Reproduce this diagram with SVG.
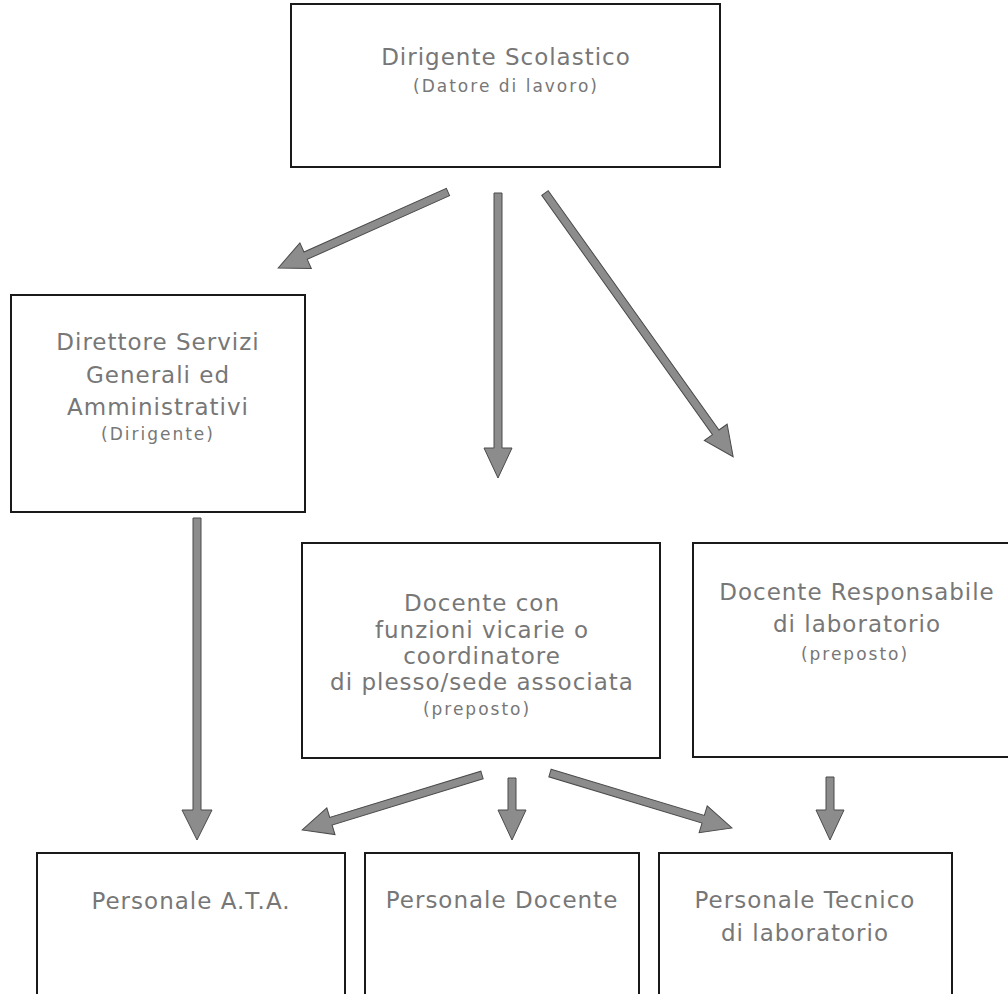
<svg xmlns="http://www.w3.org/2000/svg" width="1008" height="994" viewBox="0 0 1008 994">
<style>
.box{fill:#fff;stroke:#1a1a1a;stroke-width:2}
.t{font-family:"DejaVu Sans",Verdana,sans-serif;font-size:23px;letter-spacing:1px;fill:#777;text-anchor:middle}
.s{font-family:"DejaVu Sans",Verdana,sans-serif;font-size:17px;letter-spacing:2px;fill:#777;text-anchor:middle}
.arr{fill:#8c8c8c;stroke:#4a4a4a;stroke-width:1}
</style>
<rect width="1008" height="994" fill="#fff"/>
<g id="connectors">
<polygon class="arr" transform="translate(448,192) rotate(155.9)" points="0,-4 156,-4 156,-14 186,0 156,14 156,4 0,4"/>
<polygon class="arr" transform="translate(498,193) rotate(90)" points="0,-4 255,-4 255,-14 285,0 255,14 255,4 0,4"/>
<polygon class="arr" transform="translate(545,193) rotate(54.5)" points="0,-4 294,-4 294,-14 324,0 294,14 294,4 0,4"/>
<polygon class="arr" transform="translate(197,518) rotate(90)" points="0,-4 292,-4 292,-15 322,0 292,15 292,4 0,4"/>
<polygon class="arr" transform="translate(482,775) rotate(163)" points="0,-4 158,-4 158,-14 188,0 158,14 158,4 0,4"/>
<polygon class="arr" transform="translate(512,778) rotate(90)" points="0,-4 32,-4 32,-14 62,0 32,14 32,4 0,4"/>
<polygon class="arr" transform="translate(550,773) rotate(16.8)" points="0,-4 160,-4 160,-14 190,0 160,14 160,4 0,4"/>
<polygon class="arr" transform="translate(830,777) rotate(90)" points="0,-4 33,-4 33,-14 63,0 33,14 33,4 0,4"/>
</g>
<g id="dirigente">
<rect class="box" x="291" y="4" width="429" height="163"/>
<text class="t" x="506" y="65">Dirigente Scolastico</text>
<text class="s" x="506" y="92">(Datore di lavoro)</text>
</g>
<g id="dsga">
<rect class="box" x="11" y="295" width="294" height="217"/>
<text class="t" x="158" y="350">Direttore Servizi</text>
<text class="t" x="158" y="383">Generali ed</text>
<text class="t" x="158" y="415">Amministrativi</text>
<text class="s" x="158" y="440">(Dirigente)</text>
</g>
<g id="docente-vicario">
<rect class="box" x="302" y="543" width="358" height="215"/>
<text class="t" x="482" y="611">Docente con</text>
<text class="t" x="482" y="638">funzioni vicarie o</text>
<text class="t" x="482" y="664">coordinatore</text>
<text class="t" x="482" y="690">di plesso/sede associata</text>
<text class="s" x="477" y="715">(preposto)</text>
</g>
<g id="docente-responsabile">
<rect class="box" x="693" y="543" width="330" height="214"/>
<text class="t" x="857" y="600">Docente Responsabile</text>
<text class="t" x="857" y="632">di laboratorio</text>
<text class="s" x="855" y="660">(preposto)</text>
</g>
<g id="personale-ata">
<rect class="box" x="37" y="853" width="308" height="160"/>
<text class="t" x="191" y="909">Personale A.T.A.</text>
</g>
<g id="personale-docente">
<rect class="box" x="365" y="853" width="274" height="160"/>
<text class="t" x="502" y="908">Personale Docente</text>
</g>
<g id="personale-tecnico">
<rect class="box" x="659" y="853" width="293" height="160"/>
<text class="t" x="805" y="908">Personale Tecnico</text>
<text class="t" x="805" y="941">di laboratorio</text>
</g>
</svg>
